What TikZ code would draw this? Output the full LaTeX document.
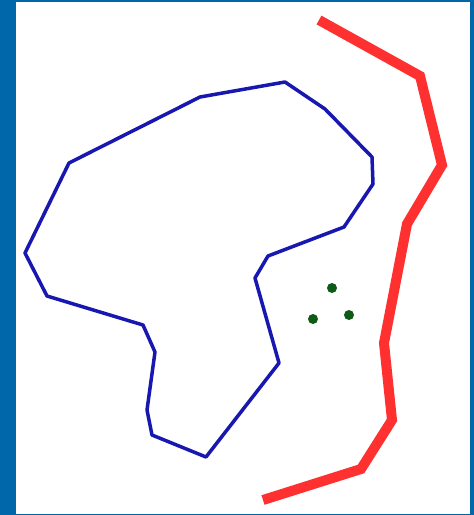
\documentclass[tikz,border=0pt]{standalone}
\usetikzlibrary{positioning}

\definecolor{framblue}{RGB}{0,104,170}
\definecolor{outline}{RGB}{24,24,176}
\definecolor{wallred}{RGB}{255,48,48}
\definecolor{dotgreen}{RGB}{16,90,24}

\begin{document}
\begin{tikzpicture}[
  x=1pt, y=-1pt,
  region/.style={draw=outline, line width=3.5pt, line join=round},
  wall/.style={draw=wallred, line width=10pt},
  point/.style={circle, fill=dotgreen, inner sep=0pt, minimum size=10pt},
]

% Frame and white canvas
\fill[framblue] (0,0) rectangle (474,515);
\fill[white] (16,1.5) rectangle (470,513.5);
\useasboundingbox (0,0) rectangle (474,515);

% Closed blue outline
\draw[region] (69,163) -- (200,97) -- (285,82) -- (325,109) -- (372,157)
  -- (373,184) -- (344,227) -- (268,256) -- (255,278) -- (279,363)
  -- (206,457) -- (152,435) -- (147,410) -- (155,352) -- (143,325)
  -- (47,296) -- (25,253) -- cycle;

% Thick red line on the right
\draw[wall] (319,20) -- (420,76) -- (442,165) -- (407,224) -- (384,343)
  -- (392,420) -- (361,469) -- (263,500);

% Three green dots
\node[point] (top) at (332,288) {};
\node[point] (left) at (313,319) {};
\node[point] (right) at (349,315) {};

\end{tikzpicture}
\end{document}
